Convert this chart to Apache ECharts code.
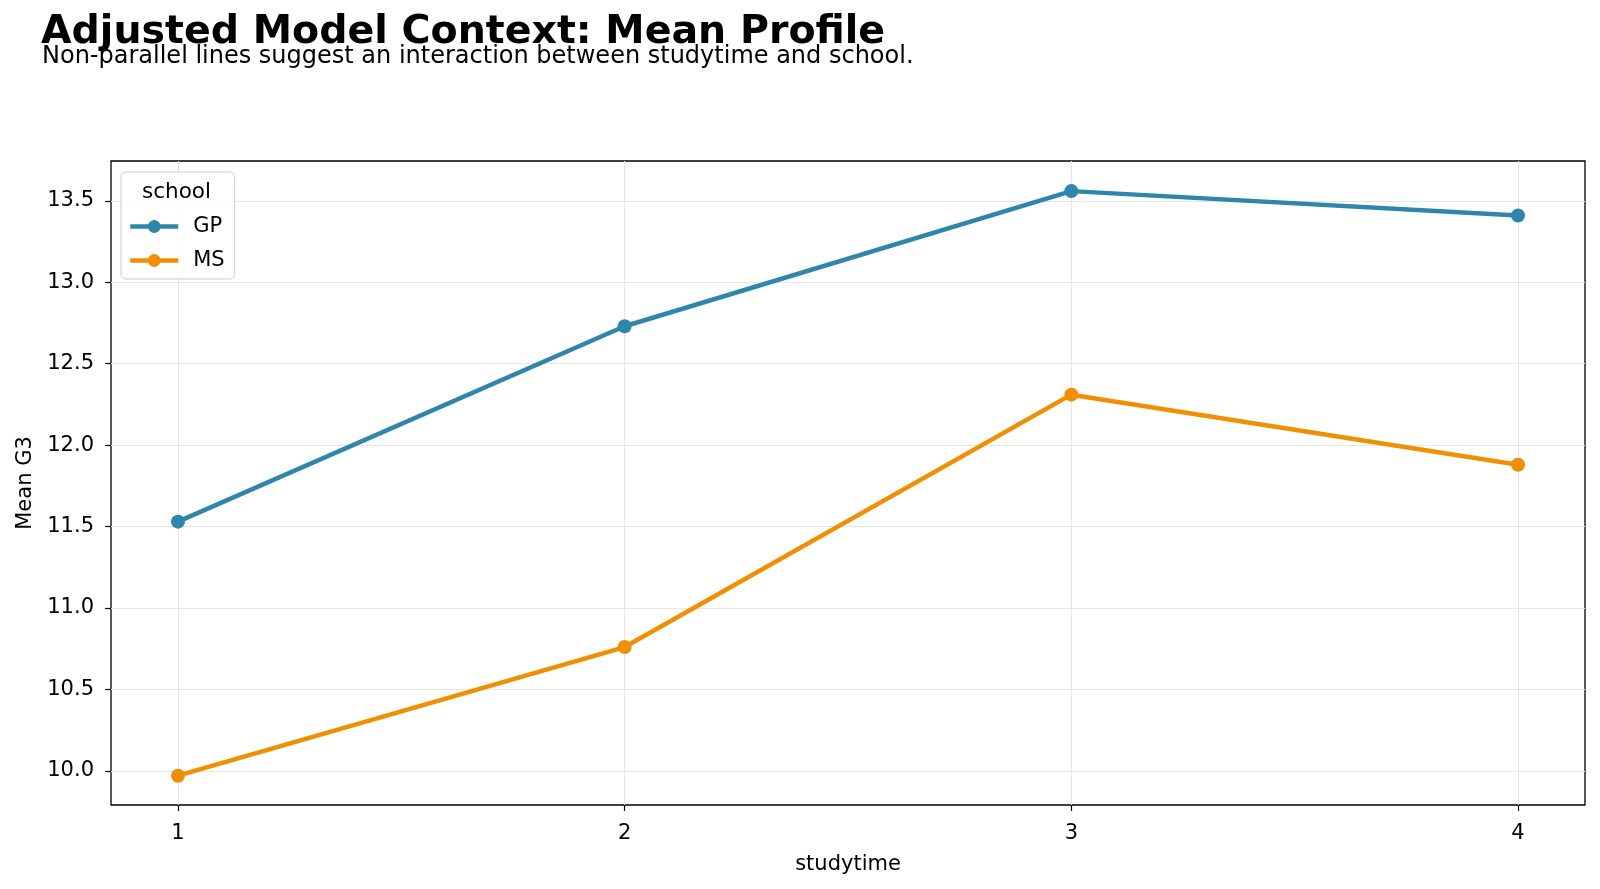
<!DOCTYPE html>
<html>
<head>
<meta charset="utf-8">
<script src="https://cdn.jsdelivr.net/npm/echarts@6/dist/echarts.min.js"></script>
<style>
  html, body { margin: 0; padding: 0; background: #fff; }
  #chart { width: 1600px; height: 889px; }
</style>
</head>
<body>
<div id="chart"></div>
<script>
const studytime = [1, 2, 3, 4]
const gpMeans = [11.53, 12.73, 13.56, 13.41]
const msMeans = [9.97, 10.76, 12.31, 11.88]
const yTicks = [10.0, 10.5, 11.0, 11.5, 12.0, 12.5, 13.0, 13.5]
const xTicks = [1, 2, 3, 4]

const FONT = 'DejaVu Sans'

let myChart = echarts.init(document.getElementById('chart'))

function pairs(vals) {
  return studytime.map((x, i) => [x, vals[i]])
}

let option = {
  animation: false,
  textStyle: { fontFamily: FONT },
  title: [
    {
      text: 'Adjusted Model Context: Mean Profile',
      left: 36,
      top: 8,
      textStyle: { fontSize: 39.5, fontWeight: 'bold', color: '#000', fontFamily: FONT }
    },
    {
      text: 'Non-parallel lines suggest an interaction between studytime and school.',
      left: 37,
      top: 40,
      textStyle: { fontSize: 24, fontWeight: 'normal', color: '#000', fontFamily: FONT }
    }
  ],
  grid: {
    left: 111,
    right: 15,
    top: 161,
    bottom: 84,
    show: true,
    borderColor: '#000',
    borderWidth: 1.3,
    backgroundColor: 'transparent'
  },
  legend: {
    orient: 'vertical',
    left: 121,
    top: 172,
    padding: [44, 10, 8, 7],
    itemWidth: 48,
    itemHeight: 16,
    itemGap: 13,
    backgroundColor: 'rgba(255,255,255,0.8)',
    borderColor: '#cccccc',
    borderWidth: 1,
    borderRadius: 5,
    lineStyle: { width: 4.5 },
    textStyle: { fontSize: 21, color: '#000', fontFamily: FONT, padding: [0, 0, 0, 10] },
    data: ['GP', 'MS']
  },
  graphic: [
    {
      type: 'text',
      left: 142,
      top: 181,
      z: 100,
      style: { text: 'school', fontSize: 21.5, fill: '#000', fontFamily: FONT }
    }
  ],
  xAxis: {
    type: 'value',
    min: 0.85,
    max: 4.15,
    name: 'studytime',
    nameLocation: 'middle',
    nameGap: 49,
    nameTextStyle: { fontSize: 21, color: '#000', fontFamily: FONT },
    axisLine: { show: false },
    axisTick: { show: true, length: 6, lineStyle: { color: '#000', width: 1.2 }, customValues: xTicks },
    axisLabel: { fontSize: 21, color: '#000', margin: 18, customValues: xTicks, formatter: v => String(v) },
    splitLine: { show: true, lineStyle: { color: '#e6e6e6', width: 1 } }
  },
  yAxis: {
    type: 'value',
    min: 9.79,
    max: 13.745,
    name: 'Mean G3',
    nameLocation: 'middle',
    nameGap: 73,
    nameTextStyle: { fontSize: 21, color: '#000', fontFamily: FONT },
    axisLine: { show: false },
    axisTick: { show: true, length: 6, lineStyle: { color: '#000', width: 1.2 }, customValues: yTicks },
    axisLabel: { fontSize: 21, color: '#000', margin: 17, customValues: yTicks, formatter: v => v.toFixed(1) },
    splitLine: { show: true, lineStyle: { color: '#e6e6e6', width: 1 } }
  },
  series: [
    {
      name: 'GP',
      type: 'line',
      data: pairs(gpMeans),
      symbol: 'circle',
      symbolSize: 14,
      color: '#2E86AB',
      lineStyle: { width: 4.5, color: '#2E86AB' },
      itemStyle: { color: '#2E86AB' },
      z: 3
    },
    {
      name: 'MS',
      type: 'line',
      data: pairs(msMeans),
      symbol: 'circle',
      symbolSize: 14,
      color: '#F18F01',
      lineStyle: { width: 4.5, color: '#F18F01' },
      itemStyle: { color: '#F18F01' },
      z: 3
    }
  ]
}
myChart.setOption(option)
</script>
</body>
</html>
